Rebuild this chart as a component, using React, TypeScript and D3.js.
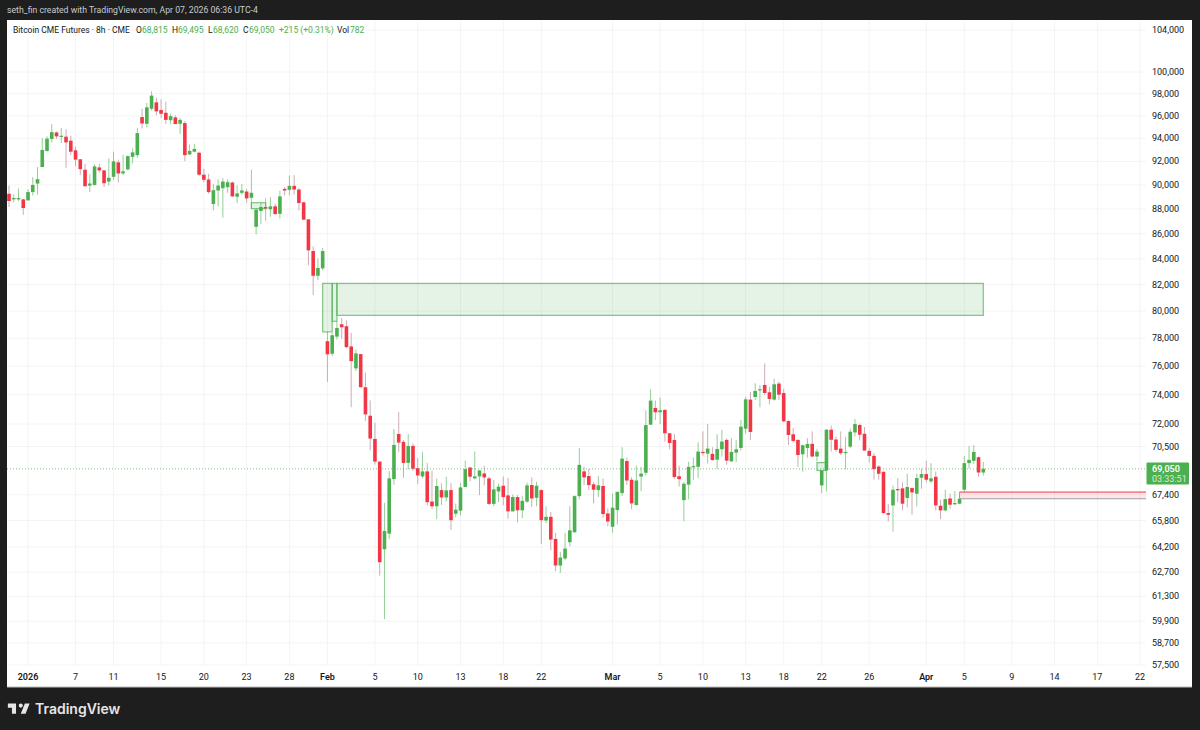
import React from 'react';
import * as d3 from 'd3';

// 8h candles
const opens = [
  89260,88795,88795,88795,88710,89400,90115,91515,92900,93940,
  94515,94170,94145,93795,92955,92180,91285,89945,90000,91485,
  91230,90285,90685,91915,90970,91315,92390,92540,95885,95285,
  96635,97210,96515,96270,95600,95855,95285,95345,92600,92835,
  92745,90860,90460,88410,89535,89725,89810,90200,89015,89340,
  89450,88930,86550,87840,88165,87975,88220,87605,89670,89590,
  89920,89615,88550,87155,84615,82685,83260,77785,76880,78120,
  79025,78880,77405,75840,76855,74515,72560,71005,69520,64060,
  65000,68395,71335,70810,69435,70545,69095,68565,68885,66975,
  66680,67695,67230,67695,66220,66410,67890,69140,68440,68565,
  68755,68440,66830,67610,67970,67360,66365,67255,66430,66975,
  68015,67210,67695,65800,66030,64680,63095,63510,64480,65080,
  67315,68885,68590,68060,67695,67955,66235,65415,66445,67505,
  69555,68350,66755,68555,68800,71955,73090,72795,72955,71380,
  70940,68575,67065,68040,69180,69180,70150,70040,70020,69645,
  70325,70940,69535,70105,70410,71690,73660,73840,74300,74675,
  74165,73660,74770,74115,72200,71315,70940,69995,70410,70680,
  69850,67995,68945,71620,70970,70365,70110,70500,71440,71935,
  71350,70215,69890,69200,68860,66260,66735,67760,67805,67195,
  67825,67465,68480,68715,68250,68540,66715,66425,67170,66820,
  66840,67720,69420,69570,69805,68815,
];
const highs = [
  89945,89205,89700,88850,89645,90660,91515,94030,94170,95260,
  94600,94915,94800,94230,93255,92180,91800,90885,91745,91800,
  91230,92240,92835,92150,92570,92510,93135,94915,96635,97150,
  98210,97635,97485,97270,96180,96030,95800,95540,93465,93525,
  92835,91370,90945,90085,90460,90570,90460,90285,89970,90085,
  89670,91285,88030,88520,88875,88985,88440,89505,89810,90800,
  90830,89725,88600,87155,84990,84025,84855,78465,78390,79245,
  79490,79320,78390,77165,76855,75535,73605,72090,69520,66890,
  68905,71665,72815,70940,71315,70720,69755,70135,69435,68950,
  68420,68120,68545,68140,66850,68165,69585,69140,70180,68950,
  69245,68545,68335,68100,68565,68480,67420,67380,67315,68165,
  68500,68225,67740,66680,66325,65040,63900,65040,66680,67360,
  70410,69180,69055,68205,68590,68430,66550,67480,67585,70460,
  69775,68515,69270,69180,72930,74375,73590,73815,73000,71380,
  71335,69250,68205,69510,69775,70785,71510,72000,70460,71315,
  71600,71050,71050,70940,72270,73865,74185,74790,74675,76190,
  74560,75095,74910,74395,72270,71730,70985,70630,71050,71510,
  70350,68945,71665,71890,71170,71510,71130,71685,72340,72020,
  71800,70390,70065,69290,68880,66820,67970,68460,68185,68735,
  67865,68735,69050,69570,69420,68880,67090,67720,67465,67635,
  67550,69890,70545,70610,69850,69495,
];
const lows = [
  88165,88550,88660,87525,88710,89125,89180,91515,92835,93645,
  93970,93585,91455,92540,91570,90830,89890,89400,89945,91030,
  89835,89945,90430,90200,90830,91230,91830,92330,94860,94970,
  96485,96030,95800,95260,95260,95260,94400,92030,92540,92775,
  90770,90230,89260,87895,88220,87290,89340,89015,88495,89180,
  88520,88000,85945,86790,87050,87370,87580,87210,89125,89125,
  89205,87895,87130,83500,81210,82340,83130,74885,76715,77905,
  77975,77285,73140,75655,74515,72210,70260,69330,62500,60015,
  64680,68035,70135,68480,69010,68905,68080,68440,66725,66515,
  65885,66765,66975,65220,66010,66115,67890,68250,68375,67380,
  67995,66765,66680,66935,66745,65905,66365,65680,65945,66890,
  66640,66680,64380,65640,64000,62760,62660,63410,64240,65080,
  67100,68015,67695,66850,67255,65965,65455,65050,65555,67315,
  68040,66485,66735,67625,68615,71955,72270,72000,70830,70325,
  68390,67915,65760,67110,68350,68470,69910,69400,69580,69050,
  69840,69315,69510,69490,70240,71360,70940,73635,73135,73975,
  73340,73590,73635,72135,70610,70765,69180,68865,69775,69805,
  69525,67505,67610,70170,70170,69955,69030,70390,71170,70905,
  70240,69460,68355,68355,66215,65740,65120,66925,66425,66610,
  66155,66675,67780,68185,68140,66425,65885,66360,66530,66755,
  66820,67610,69070,69375,68540,68620,
];
const closes = [
  88660,88905,88905,88080,89400,90000,90485,92985,93970,94545,
  94170,94230,93645,92835,92150,91340,89890,90115,91570,91230,
  90145,90600,92000,90970,91145,92450,92775,94460,95315,96755,
  97820,96395,96180,95630,95970,95260,95630,92540,92900,93075,
  90860,90430,89400,89560,89945,90285,90230,89040,89290,89535,
  88875,89340,87950,88165,88030,88220,87580,89040,89535,89920,
  89615,88495,87130,84670,82685,83290,84615,76835,78220,78755,
  78805,77355,76355,76905,74515,72650,71030,69520,63290,65160,
  68440,70610,70765,69435,70545,69055,68630,68885,66935,66680,
  67950,67230,67675,65820,66470,67865,69030,68545,68565,68950,
  68500,66830,67740,67910,67255,66365,67255,66430,67020,67995,
  67170,67970,65820,66030,64640,63095,63565,64100,65200,67315,
  69310,68500,68015,67720,67995,66195,65740,66590,67585,69710,
  68305,66860,68305,68740,71930,73590,72795,72930,71380,70740,
  68530,68390,68100,69180,69225,70170,70105,70370,69620,70345,
  70830,69580,70150,70325,71820,73680,71470,74255,74375,74115,
  73705,74720,74000,72180,71270,70875,69950,70590,70675,69850,
  70170,68945,71620,70950,70285,70065,70150,71485,72000,71285,
  70240,69890,69030,68735,66260,66155,67720,67720,66840,67890,
  67550,68460,68715,68355,68440,66735,66425,67130,66780,66880,
  67150,69420,69630,70150,68815,69050,
];

const priceTicks = [104000,100000,98000,96000,94000,92000,90000,88000,86000,84000,82000,80000,78000,76000,74000,72000,70500,67400,65800,64200,62700,61300,59900,58700,57500];
const timeTicks = [4,14,22,32,41,50,59,67,77,86,95,104,112,127,137,146,155,163,171,181,193,201,211,220,229,238];
const timeLabels = ['2026','7','11','15','20','23','28','Feb','5','10','13','18','22','Mar','5','10','13','18','22','26','Apr','5','9','14','17','22'];
const boldLabels = ['2026','Feb','Mar','Apr'];

const lastClose = 69050;
const countdown = '03:33:51';

// zones: [start bar, end bar, top price, bottom price]
const greenZones = [
  [51, 54, 88520, 88030],
  [66, 68, 82100, 78465],
  [68, 69, 82100, 79245],
  [69, 205, 82100, 79685],
  [170, 171.9, 69455, 68945],
];
const redZone = [200, 245, 67570, 67150];

// legend pieces: [text, left edge, is value]
const legendItems: [string, number, boolean][] = [
  ['Bitcoin CME Futures · 8h · CME', 13, false],
  ['O', 136, false], ['68,815', 142, true],
  ['H', 172, false], ['69,495', 178, true],
  ['L', 208, false], ['68,620', 213, true],
  ['C', 243, false], ['69,050', 249, true],
  ['+215 (+0.31%)', 279, true],
  ['Vol', 337, false], ['782', 350, true],
];

const GREEN = '#4caf50';
const RED = '#f23645';
const FONT = 'Roboto, "Noto Sans", sans-serif';

const App: React.FC = () => {
  const left = 7;
  const right = 1192;
  const top = 20;
  const bottom = 687;
  const axisX = 1146;

  const x = d3.scaleLinear().domain([0, 205]).range([9, 983.3]);
  const y = d3.scaleLog().domain([57500, 104000]).range([665, 30]);
  const fmt = d3.format(',');
  const bodyW = 3.6;

  return (
    <svg width={1200} height={730} style={{ position: 'absolute', left: 0, top: 0, background: '#1e1e1e' }} fontFamily={FONT}>
      <defs>
        <clipPath id="plot">
          <rect x={left} y={top} width={axisX - left} height={bottom - top} />
        </clipPath>
      </defs>

      <text x={7} y={13} fontSize={8.7} fill="#c9cbd0">seth_fin created with TradingView.com, Apr 07, 2026 06:36 UTC-4</text>

      <rect x={left} y={top} width={right - left} height={bottom - top} fill="#fff" />
      <rect x={left} y={bottom - 0.5} width={right - left} height={1} fill="#bdbdbd" />

      {/* grid */}
      {priceTicks.map(p => (
        <line key={p} x1={left} x2={axisX} y1={y(p)} y2={y(p)} stroke="#f4f4f4" />
      ))}
      {timeTicks.map(t => (
        <line key={t} x1={x(t)} x2={x(t)} y1={top} y2={665} stroke="#f4f4f4" />
      ))}

      <g clipPath="url(#plot)">
        {/* candles */}
        {closes.map((c, i) => {
          const up = c >= opens[i];
          const bodyTop = y(Math.max(opens[i], c));
          const bodyBottom = y(Math.min(opens[i], c));
          return (
            <g key={i}>
              <line x1={x(i)} x2={x(i)} y1={y(highs[i])} y2={y(lows[i])} stroke={up ? GREEN : '#b5808e'} strokeOpacity={up ? 0.6 : 0.65} />
              <rect x={x(i) - bodyW / 2} y={bodyTop} width={bodyW} height={Math.max(bodyBottom - bodyTop, 1.2)} fill={up ? GREEN : RED} />
            </g>
          );
        })}

        {/* zones */}
        {greenZones.map((z, i) => (
          <rect key={i} x={x(z[0])} y={y(z[2])} width={x(z[1]) - x(z[0])} height={y(z[3]) - y(z[2])} fill={GREEN} fillOpacity={0.15} stroke={GREEN} strokeOpacity={0.7} strokeWidth={1.2} />
        ))}
        <rect x={x(redZone[0])} y={y(redZone[2])} width={x(redZone[1]) - x(redZone[0])} height={y(redZone[3]) - y(redZone[2])} fill={RED} fillOpacity={0.12} />
        <line x1={x(redZone[0])} x2={axisX} y1={y(redZone[2])} y2={y(redZone[2])} stroke={RED} />
        <line x1={x(redZone[0])} x2={axisX} y1={y(redZone[3])} y2={y(redZone[3])} stroke="#9e9ea2" />
        <line x1={x(redZone[0])} x2={x(redZone[0])} y1={y(redZone[2])} y2={y(redZone[3])} stroke="#9e9ea2" />

        {/* last price */}
        <line x1={left} x2={axisX} y1={y(lastClose)} y2={y(lastClose)} stroke={GREEN} strokeOpacity={0.7} strokeDasharray="1 2" />
      </g>

      {/* legend */}
      {legendItems.map(([label, lx, isValue]) => (
        <text key={label + lx} x={lx} y={33} fontSize={8.5} fill={isValue ? GREEN : '#131722'}>{label}</text>
      ))}

      {/* price axis */}
      {priceTicks.map(p => (
        <text key={p} x={1152} y={y(p) + 3} fontSize={9} fill="#131722">{fmt(p)}</text>
      ))}
      <rect x={1146.5} y={462.5} width={42.5} height={22} rx={1} fill={GREEN} />
      <text x={1152} y={471.5} fontSize={9} fontWeight={600} fill="#fff">{fmt(lastClose)}</text>
      <text x={1152} y={482} fontSize={9} fill="#d6efd7">{countdown}</text>

      {/* time axis */}
      {timeTicks.map((t, i) => (
        <text key={t} x={x(t)} y={680} fontSize={9} textAnchor="middle" fontWeight={boldLabels.includes(timeLabels[i]) ? 600 : 400} fill="#131722">{timeLabels[i]}</text>
      ))}

      {/* logo */}
      <path transform="translate(6.5,699.5) scale(0.68)" d="M14 6H2v6h6v9h6V6zm14 15h-7l6-15h7l-6 15zm-7-9a3 3 0 1 0 0-6 3 3 0 0 0 0 6z" fill="#e6e6e6" />
      <text x={35} y={714} fontSize={14} fontWeight={600} fontFamily="Inter, Roboto, sans-serif" fill="#e6e6e6">TradingView</text>
    </svg>
  );
};

export default App;
